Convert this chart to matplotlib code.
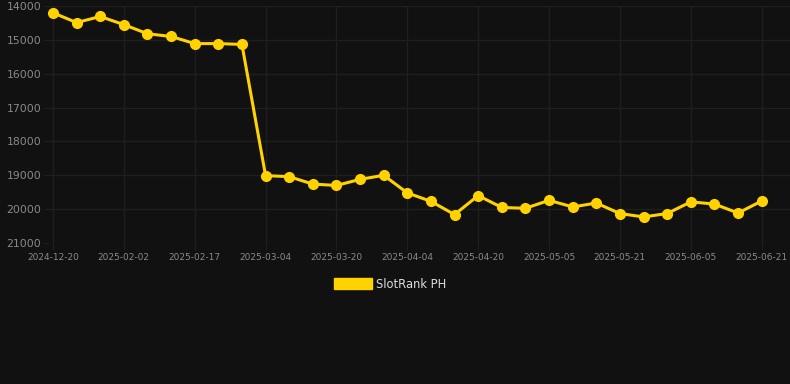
import matplotlib
matplotlib.use("Agg")
import matplotlib.pyplot as plt
from matplotlib.patches import Patch

# rank values (lower is better, y axis inverted)
dates = ["2024-12-20", "2025-01-04", "2025-01-18", "2025-02-02", "2025-02-07", "2025-02-12",
         "2025-02-17", "2025-02-22", "2025-02-27", "2025-03-04", "2025-03-09", "2025-03-14",
         "2025-03-20", "2025-03-25", "2025-03-30", "2025-04-04", "2025-04-09", "2025-04-15",
         "2025-04-20", "2025-04-25", "2025-04-30", "2025-05-05", "2025-05-10", "2025-05-16",
         "2025-05-21", "2025-05-26", "2025-05-31", "2025-06-05", "2025-06-10", "2025-06-16",
         "2025-06-21"]
ranks = [14200, 14490, 14310, 14550, 14820, 14900, 15110, 15110, 15135, 19010, 19040,
         19260, 19300, 19120, 19000, 19520, 19770, 20160, 19600, 19950, 19975, 19740,
         19935, 19820, 20130, 20230, 20130, 19785, 19850, 20115, 19760]
series_name = "SlotRank PH"
yticks = [14000, 15000, 16000, 17000, 18000, 19000, 20000, 21000]

bg = "#111111"
grid_c = "#1f1f1f"
tick_c = "#8a8a8a"
gold = "#FFD200"

fig = plt.figure(figsize=(7.9, 3.84), dpi=100, facecolor=bg)
ax = fig.add_axes([48 / 790, 1 - 243 / 384, 742 / 790, 237 / 384], facecolor=bg)

x = list(range(len(dates)))
ax.plot(x, ranks, color=gold, lw=2.2, marker="o", ms=7, zorder=3, clip_on=False)

ax.set_ylim(21000, 14000)
ax.set_yticks(yticks)
ax.set_yticklabels([str(v) for v in yticks])
ax.set_xlim(-0.21, 31.2)
ax.set_xticks(x[::3])
ax.set_xticklabels(dates[::3])

ax.grid(True, color=grid_c, lw=1)
ax.set_axisbelow(True)
for s in ax.spines.values():
    s.set_visible(False)
ax.tick_params(axis="y", colors=tick_c, labelsize=7.8, length=3, color=grid_c, pad=2)
ax.tick_params(axis="x", colors=tick_c, labelsize=6.5, length=5, color=grid_c, pad=2)

leg = fig.legend(handles=[Patch(facecolor=gold, edgecolor=gold)], labels=[series_name],
                 loc="center", bbox_to_anchor=(390 / 790, 1 - 284 / 384), frameon=False,
                 handlelength=3.3, handleheight=1.0, handletextpad=0.4, fontsize=8.3)
for t in leg.get_texts():
    t.set_color("#dddddd")

fig.savefig("out.png", dpi=100, facecolor=bg)
